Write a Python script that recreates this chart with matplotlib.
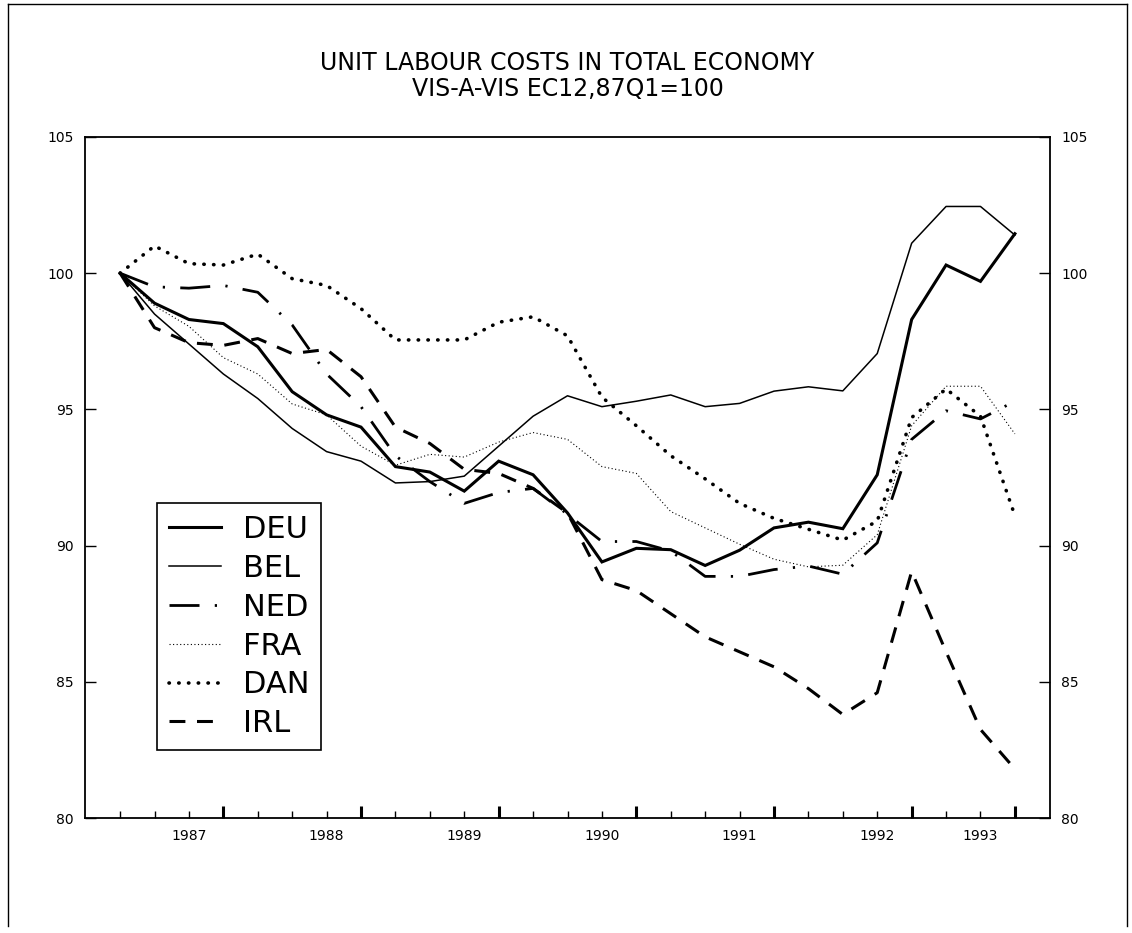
import matplotlib
matplotlib.use("Agg")
import matplotlib.pyplot as plt
from matplotlib.lines import Line2D

# quarterly index, first point = 87Q1 (=100)
quarters = list(range(27))

DEU = [100, 98.9, 98.3, 98.15, 97.3, 95.65, 94.8, 94.35, 92.9, 92.7, 92.0, 93.1, 92.6, 91.2,
       89.4, 89.9, 89.85, 89.27, 89.83, 90.65, 90.86, 90.62, 92.6, 98.3, 100.3, 99.7, 101.45]
BEL = [100, 98.5, 97.4, 96.3, 95.4, 94.3, 93.45, 93.1, 92.3, 92.35, 92.55, 93.65, 94.75, 95.5,
       95.1, 95.3, 95.53, 95.1, 95.22, 95.67, 95.83, 95.68, 97.05, 101.1, 102.45, 102.45, 101.4]
NED = [100, 99.5, 99.45, 99.55, 99.3, 98.1, 96.3, 95.1, 93.3, 92.35, 91.55, 91.95, 92.1, 91.15,
       90.15, 90.15, 89.8, 88.87, 88.87, 89.12, 89.25, 88.95, 90.1, 93.9, 94.95, 94.65, 95.3]
FRA = [100, 98.8, 98.05, 96.9, 96.3, 95.2, 94.8, 93.65, 92.95, 93.35, 93.25, 93.8, 94.15, 93.9,
       92.9, 92.65, 91.25, 90.65, 90.05, 89.5, 89.22, 89.28, 90.4, 94.4, 95.85, 95.85, 94.1]
DAN = [100, 101.0, 100.35, 100.3, 100.7, 99.8, 99.55, 98.7, 97.55, 97.55, 97.55, 98.2, 98.4, 97.7,
       95.45, 94.4, 93.3, 92.45, 91.55, 91.0, 90.6, 90.2, 90.9, 94.7, 95.75, 94.75, 91.1]
IRL = [100, 98.0, 97.45, 97.35, 97.6, 97.05, 97.2, 96.2, 94.35, 93.75, 92.8, 92.65, 92.1, 91.2,
       88.75, 88.35, 87.5, 86.65, 86.1, 85.55, 84.75, 83.8, 84.6, 89.05, 86.1, 83.25, 81.8]

year_ticks = [3, 7, 11, 15, 19, 23, 26]
year_label_pos = [2, 6, 10, 14, 18, 22, 25]
year_labels = ["1987", "1988", "1989", "1990", "1991", "1992", "1993"]
y_ticks = [80, 85, 90, 95, 100, 105]

plt.rcParams["font.family"] = ["DejaVu Sans"]

fig = plt.figure(figsize=(11.32, 9.33), dpi=100)
ax = fig.add_axes([85 / 1132, 115 / 933, 965 / 1132, 681 / 933])

ax.plot(quarters, DEU, color="k", lw=2.2, solid_joinstyle="miter", label="DEU")
ax.plot(quarters, BEL, color="k", lw=1.1, label="BEL")
ax.plot(quarters, NED, color="k", lw=2.0, ls=(0, (10.8, 5.5, 0.8, 5.5)), label="NED")
ax.plot(quarters, FRA, color="k", lw=0.8, ls=(0, (1, 2.2)), label="FRA")
ax.plot(quarters, DAN, color="k", lw=2.6, ls=(0, (0.1, 2.6)), dash_capstyle="round", label="DAN")
ax.plot(quarters, IRL, color="k", lw=2.2, ls=(0, (5.2, 3.8)), label="IRL")

ax.set_xlim(-1.02, 27.02)
ax.set_ylim(80, 105)

ax.set_yticks(y_ticks)
ax.tick_params(axis="y", direction="in", length=8, width=1, left=True, right=True,
               labelleft=True, labelright=True, labelsize=10, pad=8)

minor_pos = [q for q in quarters if q not in year_ticks]
minor_lab = [year_labels[year_label_pos.index(q)] if q in year_label_pos else "" for q in minor_pos]
ax.set_xticks(year_ticks, labels=[""] * len(year_ticks))
ax.set_xticks(minor_pos, labels=minor_lab, minor=True)
ax.tick_params(axis="x", which="major", direction="in", length=9, width=2.2, top=False)
ax.tick_params(axis="x", which="minor", direction="in", length=5, width=1, top=False,
               labelsize=10, pad=8)

for s in ax.spines.values():
    s.set_linewidth(1.3)

leg = ax.legend(loc="upper left", bbox_to_anchor=(0.0746, 0.4626), fontsize=22,
                handlelength=1.7, handletextpad=0.7, labelspacing=0.32, borderpad=0.4,
                borderaxespad=0, fancybox=False, edgecolor="k", framealpha=1)
leg.get_frame().set_linewidth(1.2)

fig.text(567.5 / 1132, 1 - 76 / 933, "UNIT LABOUR COSTS IN TOTAL ECONOMY\nVIS-A-VIS EC12,87Q1=100",
         ha="center", va="center", fontsize=17, linespacing=1.1)

# page border
for xs, ys in [([0.007, 0.007], [0.008, 0.996]), ([0.007, 0.996], [0.996, 0.996]),
               ([0.996, 0.996], [0.008, 0.996])]:
    fig.add_artist(Line2D(xs, ys, transform=fig.transFigure, color="k", lw=1))

fig.savefig("out.png", dpi=100)
